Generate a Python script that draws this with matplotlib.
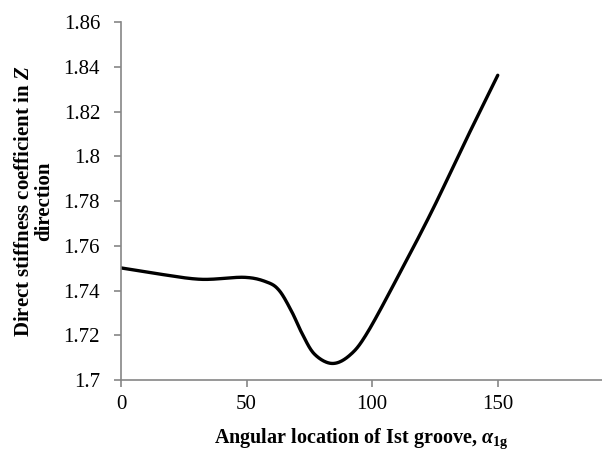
"""Direct stiffness coefficient vs angular location of first groove."""
import matplotlib
matplotlib.use("Agg")
import matplotlib.pyplot as plt
import numpy as np

plt.rcParams["font.family"] = ["Liberation Serif", "DejaVu Serif"]
plt.rcParams["mathtext.fontset"] = "custom"
plt.rcParams["mathtext.rm"] = "Liberation Serif:bold"
plt.rcParams["mathtext.it"] = "Liberation Serif:italic:bold"
plt.rcParams["mathtext.bf"] = "Liberation Serif:bold"

# values
angle = [0, 15, 32, 49, 58, 63, 68, 72, 77, 84, 91, 98, 111, 124, 137, 150]
stiffness = [1.7501, 1.7474, 1.7450, 1.7459, 1.7438, 1.7400, 1.7305, 1.7210,
             1.7116, 1.7074, 1.7110, 1.7210, 1.7478, 1.7760, 1.8065, 1.8362]
xticks = [0, 50, 100, 150]
yticks = [1.70, 1.72, 1.74, 1.76, 1.78, 1.80, 1.82, 1.84, 1.86]
ytick_labels = ["1.7", "1.72", "1.74", "1.76", "1.78", "1.8", "1.82", "1.84", "1.86"]


def smooth(xs, ys, n=30):
    # Excel-style smoothed line (Catmull-Rom as cubic Bezier)
    p = np.column_stack([xs, ys]).astype(float)
    p = np.vstack([p[0], p, p[-1]])
    out = []
    for i in range(1, len(p) - 2):
        p0, p1, p2, p3 = p[i - 1], p[i], p[i + 1], p[i + 2]
        c1 = p1 + (p2 - p0) / 6
        c2 = p2 - (p3 - p1) / 6
        t = np.linspace(0, 1, n)[:, None]
        seg = ((1 - t) ** 3) * p1 + 3 * ((1 - t) ** 2) * t * c1 + 3 * (1 - t) * t ** 2 * c2 + t ** 3 * p2
        out.append(seg if i == 1 else seg[1:])
    out = np.vstack(out)
    return out[:, 0], out[:, 1]


fig = plt.figure(figsize=(6.02, 4.51), dpi=100)
ax = fig.add_axes([0.2010, 0.1574, 0.7990, 0.7938])

sx, sy = smooth(angle, stiffness)
ax.plot(sx, sy, color="black", lw=2.4, solid_capstyle="round")

ax.set_xlim(0, 191.5)
ax.set_ylim(1.70, 1.86)
ax.set_xticks(xticks)
ax.set_yticks(yticks)
ax.set_yticklabels(ytick_labels)
ax.tick_params(axis="both", labelsize=15, color="#868686", length=5, width=1.2)
ax.tick_params(axis="x", pad=6)
ax.tick_params(axis="y", pad=10)

for side in ["top", "right"]:
    ax.spines[side].set_visible(False)
for side in ["left", "bottom"]:
    ax.spines[side].set_color("#868686")
    ax.spines[side].set_linewidth(1.2)

ax.set_xlabel(r"Angular location of Ist groove, $\alpha_{\mathbf{1g}}$",
              fontsize=14.5, fontweight="bold", labelpad=9)
ax.set_ylabel("Direct stiffness coefficient in $\\it{Z}$\ndirection",
              fontsize=15, fontweight="bold", labelpad=7, linespacing=1.0)

fig.savefig("out.png", dpi=100)
